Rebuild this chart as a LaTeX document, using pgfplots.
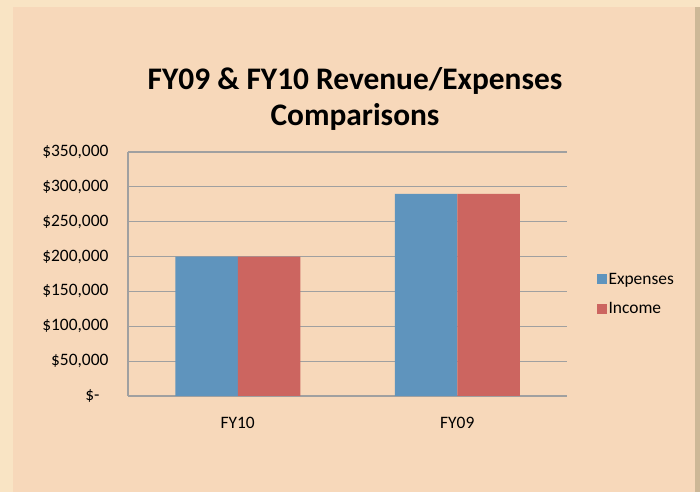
\documentclass[border=0pt]{standalone}
\usepackage{pgfplots}
\pgfplotsset{compat=1.18}
\usepackage{fontspec}
\setmainfont{Carlito}
\definecolor{outer}{HTML}{F9E4C4}
\definecolor{panel}{HTML}{F7D8BA}
\definecolor{shadow}{HTML}{CDB897}
\definecolor{expblue}{HTML}{5F94BD}
\definecolor{increD}{HTML}{CC6560}
\definecolor{gridgray}{HTML}{A0A0A0}
\begin{document}
\begin{tikzpicture}[x=1bp,y=1bp]
\fill[outer] (0,0) rectangle (700,492);
\fill[shadow] (695,0) rectangle (700,485);
\fill[panel] (13,0) rectangle (695,485);
\node[font=\fontsize{31.5}{37}\selectfont\bfseries, align=center, anchor=center] at (355,393) {FY09 \& FY10 Revenue/Expenses\\Comparisons};
\begin{axis}[
  at={(128bp,96bp)}, anchor=south west,
  scale only axis, width=439bp, height=244bp,
  xmin=-0.5, xmax=1.5, ymin=0, ymax=350000,
  xtick={0,1}, xticklabels={FY10,FY09},
  ytick={0,50000,100000,150000,200000,250000,300000,350000},
  yticklabels={{\$-\kern9bp\mbox{}},{\$50,000},{\$100,000},{\$150,000},{\$200,000},{\$250,000},{\$300,000},{\$350,000}},
  scaled y ticks=false,
  ymajorgrids, grid style={gridgray, line width=1.2pt},
  axis line style={gridgray, line width=1.2pt},
  axis x line*=bottom, axis y line*=left,
  tick style={draw=none},
  ticklabel style={font=\fontsize{17.5}{20}\selectfont},
  xticklabel style={yshift=-13bp},
  yticklabel style={xshift=-16bp},
  ybar=0pt, bar width=62.5bp,
  legend style={at={(1.06,0.418)}, anchor=west, draw=none, fill=none,
    font=\fontsize{17.5}{20}\selectfont, row sep=13bp,
    /tikz/every even column/.append style={column sep=5bp}},
  legend cell align=left,
  legend image code/.code={\fill[#1] (0bp,-5bp) rectangle (10bp,5bp);},
]
\addplot[fill=expblue, draw=none] coordinates {(0,200000) (1,290000)};
\addplot[fill=increD, draw=none] coordinates {(0,200000) (1,290000)};
\legend{Expenses,Income}
\end{axis}
\end{tikzpicture}
\end{document}
